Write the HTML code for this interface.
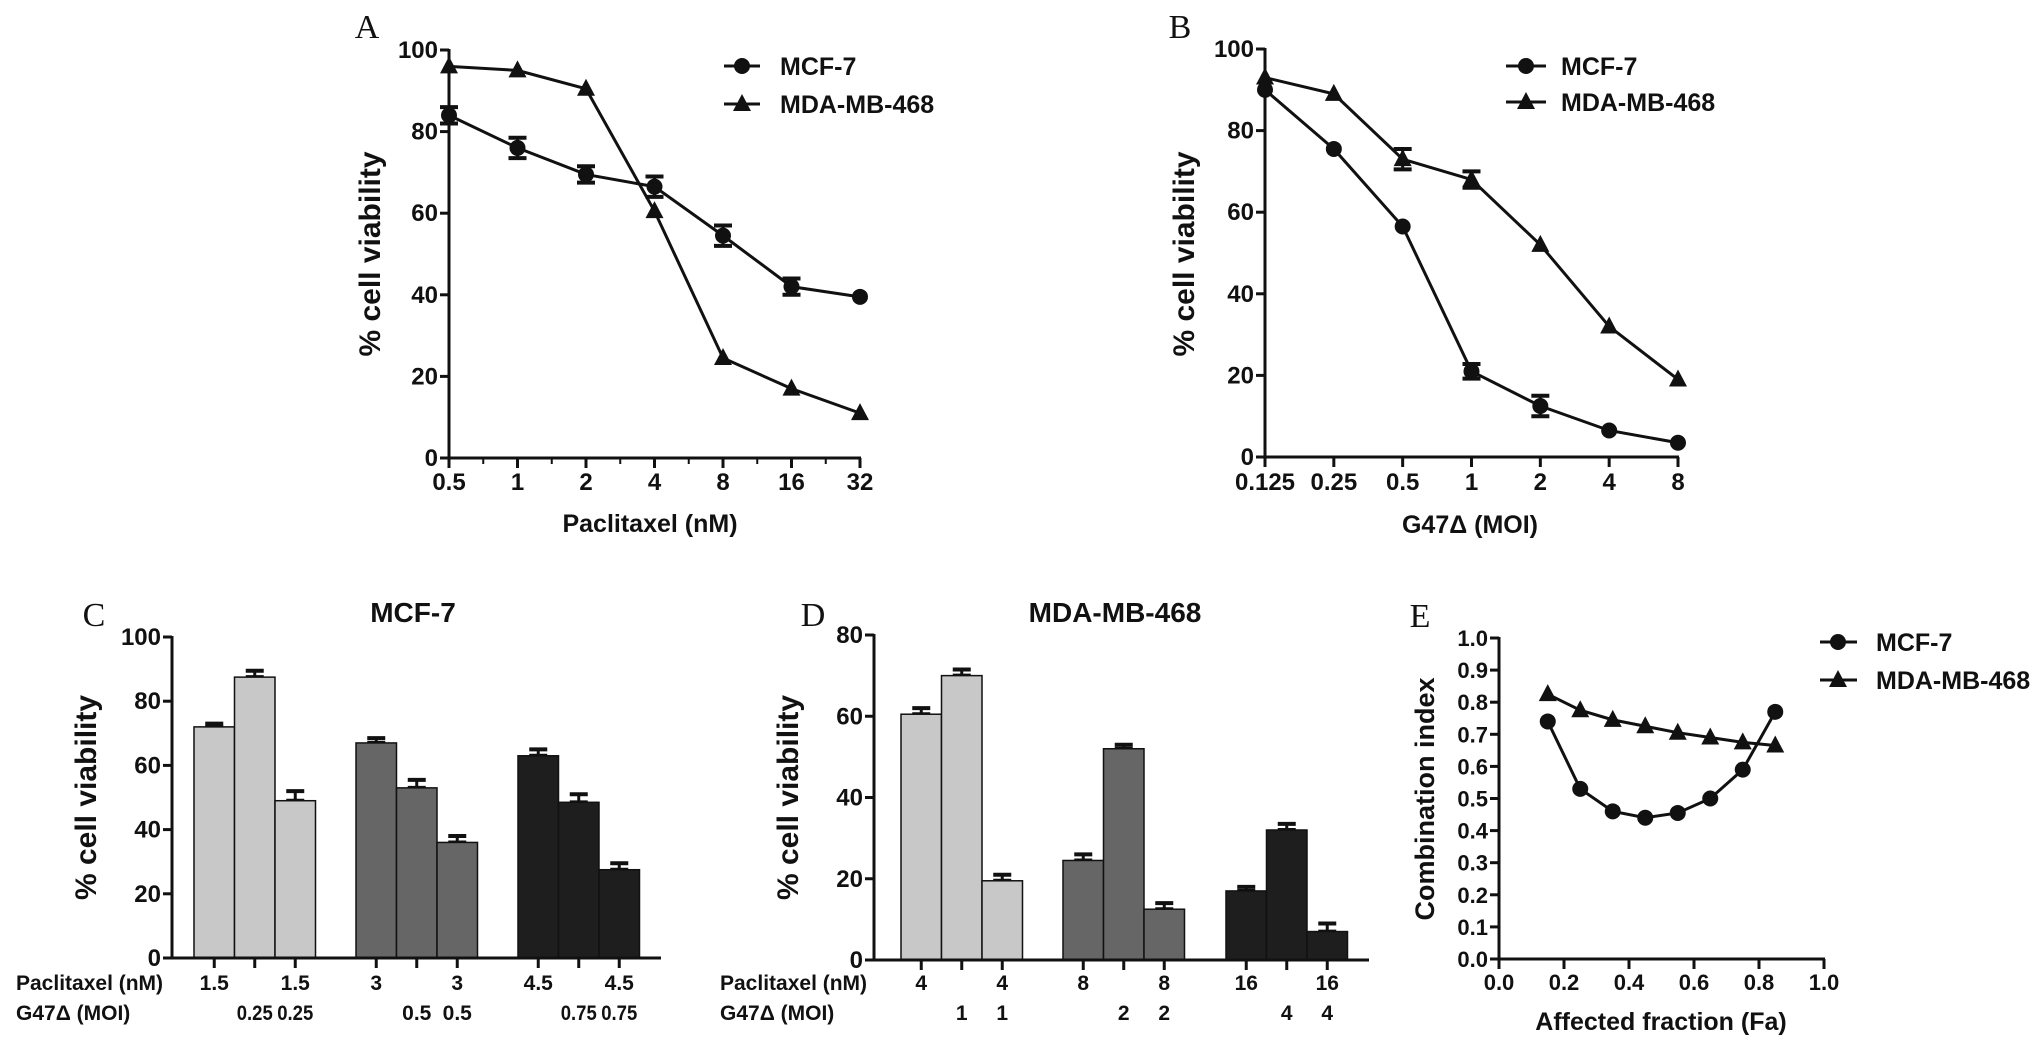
<!DOCTYPE html>
<html><head><meta charset="utf-8">
<style>
html,body{margin:0;padding:0;background:#fff;}
svg{display:block;font-family:"Liberation Sans Narrow","Liberation Sans",sans-serif;font-weight:bold;}
.panel{font-family:"Liberation Serif",serif;font-weight:normal;}
</style></head>
<body>
<svg id="fig" width="2043" height="1062" viewBox="0 0 2043 1062"></svg>
<script>
// Panel A data
const aTicks = ["0.5","1","2","4","8","16","32"];
const aMcf = [84,76,69.5,66.5,54.5,42,39.5];
const aMcfErr = [2,2.5,2,2.5,2.5,2,0.5];
const aMda = [96,95,90.5,60.5,24.5,17,11];
// Panel B data
const bTicks = ["0.125","0.25","0.5","1","2","4","8"];
const bMcf = [90,75.5,56.5,21,12.5,6.5,3.5];
const bMcfErr = [0.5,0.5,0.5,1.8,2.5,0.5,0.5];
const bMda = [93,89,73,68,52,32,19];
const bMdaErr = [0.5,0.5,2.5,2,0.5,0.5,0.5];
// Panel C data
const cVals = [72,87.5,49,67,53,36,63,48.5,27.5];
const cErr = [1,2,3,1.5,2.5,2,2,2.5,2];
const cPac = ["1.5","","1.5","3","","3","4.5","","4.5"];
const cMoi = ["","0.25","0.25","","0.5","0.5","","0.75","0.75"];
// Panel D data
const dVals = [60.5,70,19.5,24.5,52,12.5,17,32,7];
const dErr = [1.5,1.5,1.5,1.5,1,1.5,1,1.5,2];
const dPac = ["4","","4","8","","8","16","","16"];
const dMoi = ["","1","1","","2","2","","4","4"];
// Panel E data
const eFa = [0.15,0.25,0.35,0.45,0.55,0.65,0.75,0.85];
const eMcf = [0.74,0.53,0.46,0.44,0.455,0.5,0.59,0.77];
const eMda = [0.825,0.775,0.745,0.725,0.705,0.69,0.675,0.665];
const barColors = ["#c8c8c8","#c8c8c8","#c8c8c8","#666","#666","#666","#1e1e1e","#1e1e1e","#1e1e1e"];

const NS="http://www.w3.org/2000/svg";
const svg=document.getElementById('fig');
function el(tag,attrs,parent,text){const e=document.createElementNS(NS,tag);for(const k in attrs)e.setAttribute(k,attrs[k]);if(text!==undefined)e.textContent=text;(parent||svg).appendChild(e);return e;}
function grp(name){const g=el('g',{});return g;}
function line(g,x1,y1,x2,y2,w){return el('line',{x1,y1,x2,y2,stroke:'#111','stroke-width':w||3},g);}
function txt(g,x,y,s,size,anchor,extra){const t=el('text',Object.assign({x,y,'font-size':size,'text-anchor':anchor||'middle',fill:'#111'},extra||{}),g,s);return t;}
function circle(g,x,y){return el('circle',{cx:x,cy:y,r:8,fill:'#111'},g);}
function tri(g,x,y){return el('polygon',{points:`${x},${y-10} ${x-9},${y+7} ${x+9},${y+7}`,fill:'#111'},g);}
function errbar(g,x,y1,y2){line(g,x,y1,x,y2,3);line(g,x-9,y1,x+9,y1,4);line(g,x-9,y2,x+9,y2,4);}
function yAxis(g,x,ytop,ybot,ticks,fmt,vmax){line(g,x,ytop-1,x,ybot+1,3);
  ticks.forEach(v=>{const y=ybot-(ybot-ytop)*v/vmax;line(g,x-9,y,x,y,3);txt(g,x-11,y+8,fmt(v),24,'end');});}

// ---------- Panel A ----------
(function(){
 const g=grp('panel-a');
 const X0=449,X1=860,Y0=458,Y1=50;
 const xs=i=>X0+(X1-X0)*i/(aTicks.length-1), ys=v=>Y0-(Y0-Y1)*v/100;
 txt(g,367,38,'A',34,'middle',{'class':'panel'});
 yAxis(g,X0,Y1,Y0,[0,20,40,60,80,100],v=>v,100);
 line(g,X0-1,Y0,X1+1,Y0,3);
 aTicks.forEach((t,i)=>{line(g,xs(i),Y0,xs(i),Y0+10,3);if(i<aTicks.length-1)line(g,(xs(i)+xs(i+1))/2,Y0,(xs(i)+xs(i+1))/2,Y0+6,2);txt(g,xs(i),490,t,24);});
 txt(g,650,532,'Paclitaxel (nM)',25);
 txt(g,0,0,'% cell viability',30,'middle',{transform:'translate(380,254) rotate(-90)'});
 el('polyline',{points:aMda.map((v,i)=>xs(i)+','+ys(v)).join(' '),fill:'none',stroke:'#111','stroke-width':3},g);
 el('polyline',{points:aMcf.map((v,i)=>xs(i)+','+ys(v)).join(' '),fill:'none',stroke:'#111','stroke-width':3},g);
 aMcf.forEach((v,i)=>{if(aMcfErr[i]>1)errbar(g,xs(i),ys(v+aMcfErr[i]),ys(v-aMcfErr[i]));const c=circle(g,xs(i),ys(v));});
 aMda.forEach((v,i)=>{const t=tri(g,xs(i),ys(v));});
 const lg=el('g',{},g);
 line(lg,724,66,760,66,3);circle(lg,742,66);txt(lg,780,75,'MCF-7',25,'start');
 line(lg,724,104,760,104,3);tri(lg,742,104);txt(lg,780,113,'MDA-MB-468',25,'start');
})();

// ---------- Panel B ----------
(function(){
 const g=grp('panel-b');
 const X0=1265,X1=1678,Y0=457,Y1=49;
 const xs=i=>X0+(X1-X0)*i/(bTicks.length-1), ys=v=>Y0-(Y0-Y1)*v/100;
 txt(g,1180,38,'B',34,'middle',{'class':'panel'});
 yAxis(g,X0,Y1,Y0,[0,20,40,60,80,100],v=>v,100);
 line(g,X0-1,Y0,X1+1,Y0,3);
 bTicks.forEach((t,i)=>{line(g,xs(i),Y0,xs(i),Y0+10,3);txt(g,xs(i),490,t,24);});
 txt(g,1470,533,'G47Δ (MOI)',25);
 txt(g,0,0,'% cell viability',30,'middle',{transform:'translate(1194,254) rotate(-90)'});
 el('polyline',{points:bMda.map((v,i)=>xs(i)+','+ys(v)).join(' '),fill:'none',stroke:'#111','stroke-width':3},g);
 el('polyline',{points:bMcf.map((v,i)=>xs(i)+','+ys(v)).join(' '),fill:'none',stroke:'#111','stroke-width':3},g);
 bMda.forEach((v,i)=>{if(bMdaErr[i]>1)errbar(g,xs(i),ys(v+bMdaErr[i]),ys(v-bMdaErr[i]));const t=tri(g,xs(i),ys(v));});
 bMcf.forEach((v,i)=>{if(bMcfErr[i]>1)errbar(g,xs(i),ys(v+bMcfErr[i]),ys(v-bMcfErr[i]));const c=circle(g,xs(i),ys(v));});
 const lg=el('g',{},g);
 line(lg,1506,66,1546,66,3);circle(lg,1526,66);txt(lg,1561,75,'MCF-7',25,'start');
 line(lg,1506,102,1546,102,3);tri(lg,1526,102);txt(lg,1561,111,'MDA-MB-468',25,'start');
})();

// ---------- Bar panels ----------
function barPanel(name,letter,title,vals,errs,pac,moi,X0,Xend,Y0,Y1,vmax,ticks,lx,tx,starts,labX){
 const g=grp(name);
 const ys=v=>Y0-(Y0-Y1)*v/vmax, bw=40.5;
 txt(g,lx,626,letter,34,'middle',{'class':'panel'});
 txt(g,tx,622,title,28);
 yAxis(g,X0,Y1,Y0,ticks,v=>v,vmax);
 txt(g,0,0,'% cell viability',30,'middle',{transform:`translate(${X0-76},${(Y0+Y1)/2}) rotate(-90)`});
 vals.forEach((v,i)=>{const gi=Math.floor(i/3),x=starts[gi]+(i%3)*bw;
   errbar(g,x+bw/2,ys(v+errs[i]),ys(v));
   const r=el('rect',{x,y:ys(v),width:bw,height:Y0-ys(v),fill:barColors[i],stroke:'#111','stroke-width':1.5},g);
   
   line(g,x+bw/2,Y0,x+bw/2,Y0+10,3);
   if(pac[i])txt(g,x+bw/2,990,pac[i],21);
   if(moi[i])txt(g,x+bw/2,1020,moi[i],21,'middle',{textLength:moi[i].length>3?36:undefined}.textLength?{textLength:36,lengthAdjust:'spacingAndGlyphs'}:{});});
 line(g,X0-1,Y0,Xend,Y0,3);
 txt(g,labX,990,'Paclitaxel (nM)',21,'start');
 txt(g,labX,1020,'G47Δ (MOI)',21,'start');
}
barPanel('panel-c','C','MCF-7',cVals,cErr,cPac,cMoi,172,661,958,637,100,[0,20,40,60,80,100],94,413,[194,356,518],16);
barPanel('panel-d','D','MDA-MB-468',dVals,dErr,dPac,dMoi,874,1369,960,635,80,[0,20,40,60,80],813,1115,[901,1063,1226],720);

// ---------- Panel E ----------
(function(){
 const g=grp('panel-e');
 const X0=1499,X1=1824,Y0=959,Y1=638;
 const xs=v=>X0+(X1-X0)*v, ys=v=>Y0-(Y0-Y1)*v;
 txt(g,1420,627,'E',34,'middle',{'class':'panel'});
 line(g,X0,Y1-1,X0,Y0+1,3);
 for(let k=0;k<=10;k++){const v=k/10;line(g,X0-9,ys(v),X0,ys(v),3);txt(g,X0-11,ys(v)+8,v.toFixed(1),22,'end');}
 line(g,X0-1,Y0,X1+1,Y0,3);
 for(let k=0;k<=5;k++){const v=k/5;line(g,xs(v),Y0,xs(v),Y0+10,3);txt(g,xs(v),990,v.toFixed(1),22);}
 txt(g,1661,1030,'Affected fraction (Fa)',25);
 txt(g,0,0,'Combination index',27,'middle',{transform:'translate(1434,799) rotate(-90)'});
 el('polyline',{points:eMda.map((v,i)=>xs(eFa[i])+','+ys(v)).join(' '),fill:'none',stroke:'#111','stroke-width':3},g);
 el('polyline',{points:eMcf.map((v,i)=>xs(eFa[i])+','+ys(v)).join(' '),fill:'none',stroke:'#111','stroke-width':3},g);
 eMcf.forEach((v,i)=>{const c=circle(g,xs(eFa[i]),ys(v));});
 eMda.forEach((v,i)=>{const t=tri(g,xs(eFa[i]),ys(v));});
 const lg=el('g',{},g);
 line(lg,1820,642,1857,642,3);circle(lg,1838,642);txt(lg,1876,651,'MCF-7',25,'start');
 line(lg,1820,680,1857,680,3);tri(lg,1838,680);txt(lg,1876,689,'MDA-MB-468',25,'start');
})();
</script>
</body></html>
